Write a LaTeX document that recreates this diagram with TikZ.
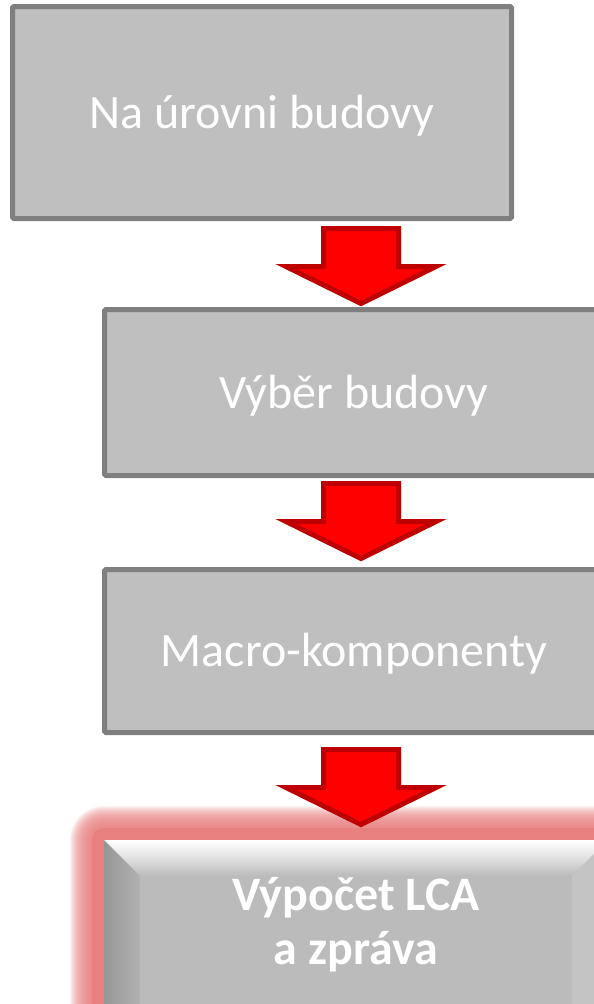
\documentclass[tikz,border=0pt]{standalone}
\usepackage{fontspec}
\setmainfont{Carlito}
\usetikzlibrary{calc}

\definecolor{boxfill}{RGB}{191,191,191}
\definecolor{boxline}{RGB}{127,127,127}
\definecolor{arrowfill}{RGB}{255,0,0}
\definecolor{arrowline}{RGB}{190,0,0}
\definecolor{glowred}{RGB}{232,128,128}
\definecolor{bevelmid}{RGB}{187,187,187}
\definecolor{beveldark}{RGB}{150,150,150}
\definecolor{bevellight}{RGB}{196,196,196}

\begin{document}
\begin{tikzpicture}[x=1pt,y=-1pt,
  stepbox/.style={draw=boxline, fill=boxfill, line width=5pt, rounded corners=1.5pt,
    text=white, font=\fontsize{48}{54}\selectfont, inner sep=0pt,
    text height=31pt, text depth=0pt, minimum width=499pt},
  blockarrow/.style={draw=arrowline, fill=arrowfill, line width=5pt, line join=miter},
  pics/downarrow/.style={code={
    \draw[blockarrow] (-37.5,0) -- (37.5,0) -- (37.5,38) -- (75,38) -- (0,75)
      -- (-75,38) -- (-37.5,38) -- cycle;}}]
\useasboundingbox (0,0) rectangle (594,1004);

% plain grey steps
\node[stepbox, minimum height=212pt] (b1) at (262,112.5) {Na úrovni budovy};
\node[stepbox, minimum height=166pt] (b2) at (354,392.5) {Výběr budovy};
\node[stepbox, minimum height=163pt] (b3) at (354,651) {Macro-komponenty};

% final step: bevelled box with a soft red glow
\coordinate (A) at (104,840);
\coordinate (B) at (608,840);
\coordinate (C) at (608,1040);
\coordinate (D) at (104,1040);
\coordinate (a) at (140,876);
\coordinate (b) at (572,876);
\coordinate (c) at (572,1004);
\coordinate (d) at (140,1004);
\foreach \g in {34,33,...,12}
  \fill[glowred, opacity=0.1, rounded corners=\g pt]
    ($(A)+(-\g,-\g)$) rectangle ($(C)+(\g,\g)$);
\fill[glowred, rounded corners=12pt] ($(A)+(-12,-12)$) rectangle ($(C)+(12,12)$);
\fill[bevelmid] (A) rectangle (C);
\shade[top color=white, bottom color=bevelmid, middle color=white!55!bevelmid]
  (A) -- (B) -- (b) -- (a) -- cycle;
\shade[left color=beveldark, right color=bevelmid!95!black]
  (A) -- (a) -- (d) -- (D) -- cycle;
\fill[bevellight] (B) -- (C) -- (c) -- (b) -- cycle;
\node[text=white, font=\bfseries\fontsize{48}{54}\selectfont, align=center, inner sep=0pt]
  (b4) at (356,925) {Výpočet LCA\\a zpráva};

% block arrows between the steps
\coordinate (a1) at (361,228.5);
\coordinate (a2) at (361,483.5);
\coordinate (a3) at (361,749.5);
\pic at (a1) {downarrow};
\pic at (a2) {downarrow};
\pic at (a3) {downarrow};
\end{tikzpicture}
\end{document}
